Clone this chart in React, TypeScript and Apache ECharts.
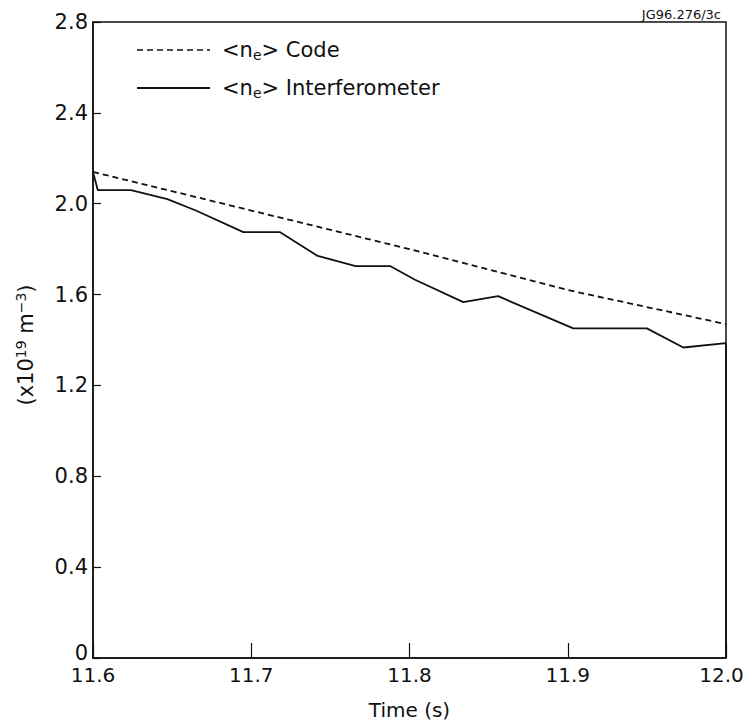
import React, { useEffect, useRef } from "react";
import * as echarts from "echarts";

const codeTimes = [11.6, 11.7, 11.8, 11.9, 12.0];
const codeValues = [2.14, 1.97, 1.8, 1.62, 1.47];

const interfTimes = [
  11.6, 11.603, 11.624, 11.647, 11.665, 11.695, 11.718, 11.742, 11.766, 11.788,
  11.8035, 11.834, 11.856, 11.9035, 11.95, 11.973, 12.0, 12.0,
];
const interfValues = [
  2.14, 2.06, 2.06, 2.02, 1.97, 1.875, 1.875, 1.77, 1.725, 1.725,
  1.665, 1.567, 1.593, 1.451, 1.451, 1.367, 1.386, 0,
];

const yTicks = [0, 0.4, 0.8, 1.2, 1.6, 2.0, 2.4, 2.8];
const xTicks = [11.6, 11.7, 11.8, 11.9, 12.0];

const FONT = "'DejaVu Sans', Verdana, sans-serif";
const FS = 21;

export default function App() {
  const ref = useRef<HTMLDivElement>(null);
  useEffect(() => {
    if (!ref.current) return;
    const chart = echarts.init(ref.current, null, { renderer: "svg" });
    const codeData = codeTimes.map((t, i) => [t, codeValues[i]]);
    const interfData = interfTimes.map((t, i) => [t, interfValues[i]]);
    const subRich = {
      sub: { fontSize: 14, fontFamily: FONT, color: "#111", padding: [10, 0, 0, 0] },
    };
    const xMax = xTicks[xTicks.length - 1];
    chart.setOption({
      animation: false,
      backgroundColor: "#fff",
      grid: {
        left: 93,
        right: 20,
        top: 22,
        bottom: 70,
        show: true,
        borderColor: "#111",
        borderWidth: 1.5,
        containLabel: false,
        outerBoundsMode: "none",
      },
      xAxis: {
        type: "value",
        min: xTicks[0],
        max: xMax,
        interval: 0.1,
        name: "Time (s)",
        nameLocation: "middle",
        nameGap: 42,
        nameTextStyle: { fontFamily: FONT, fontSize: 20, color: "#111" },
        axisLine: { lineStyle: { color: "#111", width: 1.5 } },
        axisTick: { inside: true, length: 15, lineStyle: { color: "#111", width: 1.2 } },
        axisLabel: {
          fontFamily: FONT,
          fontSize: 20,
          color: "#111",
          margin: 7,
          formatter: (v: number) =>
            Math.abs(v - xMax) < 1e-6 ? `{e|${v.toFixed(1)}}` : v.toFixed(1),
          rich: {
            e: { fontFamily: FONT, fontSize: 20, color: "#111", padding: [0, 9, 0, 0] },
          },
        },
        splitLine: { show: false },
      },
      yAxis: {
        type: "value",
        min: 0,
        max: yTicks[yTicks.length - 1],
        interval: 0.4,
        axisLine: { show: true, lineStyle: { color: "#111", width: 1.5 } },
        axisTick: { show: true, inside: true, length: 8, lineStyle: { color: "#111", width: 1.2 } },
        axisLabel: {
          fontFamily: FONT,
          fontSize: FS,
          color: "#111",
          margin: 5,
          formatter: (v: number) => (v === 0 ? "{z|0}" : v.toFixed(1)),
          rich: {
            z: { fontFamily: FONT, fontSize: FS, color: "#111", padding: [0, 0, 10, 0] },
          },
        },
        splitLine: { show: false },
      },
      series: [
        {
          name: "<ne> Code",
          type: "line",
          data: codeData,
          showSymbol: false,
          symbol: "none",
          lineStyle: { color: "#111", width: 1.8, type: [6, 4] },
          z: 3,
        },
        {
          name: "<ne> Interferometer",
          type: "line",
          data: interfData,
          showSymbol: false,
          symbol: "none",
          lineStyle: { color: "#111", width: 1.8 },
          z: 4,
        },
      ],
      graphic: [
        {
          type: "line",
          shape: { x1: 137, y1: 50, x2: 210, y2: 50 },
          style: { stroke: "#111", lineWidth: 1.6, lineDash: [6, 4] },
        },
        {
          type: "text",
          x: 222,
          y: 50,
          style: {
            text: "<n{sub|e}> Code",
            font: `${FS}px ${FONT}`,
            fill: "#111",
            verticalAlign: "middle",
            rich: subRich,
          },
        },
        {
          type: "line",
          shape: { x1: 137, y1: 88, x2: 210, y2: 88 },
          style: { stroke: "#111", lineWidth: 1.8 },
        },
        {
          type: "text",
          x: 222,
          y: 88,
          style: {
            text: "<n{sub|e}> Interferometer",
            font: `${FS}px ${FONT}`,
            fill: "#111",
            verticalAlign: "middle",
            rich: subRich,
          },
        },
        {
          type: "text",
          x: 26,
          y: 345,
          rotation: Math.PI / 2,
          style: {
            text: "(x10{sup|19} m{sup|−3})",
            font: `${FS}px ${FONT}`,
            fill: "#111",
            align: "center",
            verticalAlign: "middle",
            rich: {
              sup: { fontSize: 14, fontFamily: FONT, color: "#111", padding: [0, 0, 10, 0] },
            },
          },
        },
        {
          type: "text",
          x: 721,
          y: 14,
          style: {
            text: "JG96.276/3c",
            font: `13px ${FONT}`,
            fill: "#111",
            align: "right",
            verticalAlign: "middle",
          },
        },
      ],
    });
    return () => chart.dispose();
  }, []);
  return <div ref={ref} style={{ width: 746, height: 728, position: "absolute", left: 0, top: 0 }} />;
}
